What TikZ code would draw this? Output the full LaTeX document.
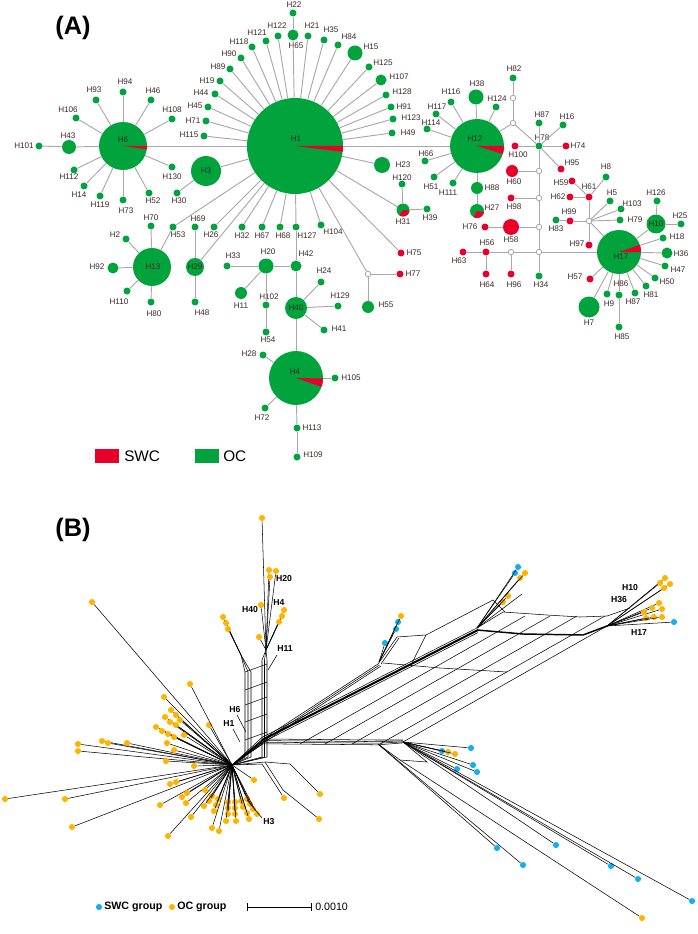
\documentclass[tikz,border=0pt]{standalone}
\usepackage{fontspec}
\setmainfont{Liberation Sans}
\usetikzlibrary{calc}
\definecolor{hg}{RGB}{0,163,60}
\definecolor{hr}{RGB}{232,0,42}
\definecolor{lg}{RGB}{168,168,168}
\definecolor{lbc}{RGB}{60,40,40}
\definecolor{bo}{RGB}{255,180,0}
\definecolor{bb}{RGB}{20,175,240}
\newcommand\hapn[5]{\node[#1] (#2) at (#3) {}; \node[lb] (L#2) at (#4) {#5};}
\newcommand\redpie[4]{\fill[hr,shift={(#1.center)}] (0,0) -- plot[domain=#3:#4,samples=12,variable=\t] (\t:#2) -- cycle;}
\begin{document}
\begin{tikzpicture}[x=0.75pt,y=-0.75pt,
  gd/.style={circle,fill=hg,inner sep=0pt,minimum size=#1*0.75pt}, gd/.default=7,
  rd/.style={circle,fill=hr,inner sep=0pt,minimum size=#1*0.75pt}, rd/.default=7,
  hd/.style={circle,draw=lg,fill=white,line width=0.6pt,inner sep=0pt,minimum size=5.5*0.75pt},
  lb/.style={font=\fontsize{6.1}{7}\selectfont,text=lbc,inner sep=0pt},
  ed/.style={draw=lg,line width=0.7pt},
  od/.style={circle,fill=bo,inner sep=0pt,minimum size=4.6pt},
  bd/.style={circle,fill=bb,inner sep=0pt,minimum size=4.6pt},
  bl/.style={draw=black,line width=0.4pt},
  bt/.style={font=\bfseries\fontsize{6.5}{7}\selectfont,inner sep=0pt},
  pan/.style={font=\bfseries\fontsize{19}{20}\selectfont,inner sep=0pt}]
\useasboundingbox (0,0) rectangle (697,934);
\node[pan] (pA) at (73,28) {(A)};
\node[pan] (pB) at (73,530) {(B)};
% ---------------- panel A nodes
\hapn{gd=96}{H1}{295,146}{296,139}{H1}
\hapn{gd=48}{H6}{123,146}{123,140}{H6}
\hapn{gd=14}{H43}{69,147}{68,136}{H43}
\hapn{gd}{H101}{39,146}{24,146}{H101}
\hapn{gd}{H94}{123,92}{125,82}{H94}
\hapn{gd}{H93}{96,100}{94,90}{H93}
\hapn{gd}{H46}{151,100}{153,91}{H46}
\hapn{gd}{H106}{76,118}{68,110}{H106}
\hapn{gd}{H108}{172,119}{172,110}{H108}
\hapn{gd}{H112}{74,170}{69,177}{H112}
\hapn{gd}{H14}{84,186}{79,195}{H14}
\hapn{gd}{H119}{100,196}{100,205}{H119}
\hapn{gd}{H73}{123,200}{126,211}{H73}
\hapn{gd}{H52}{149,193}{153,201}{H52}
\hapn{gd}{H130}{172,167}{172,177}{H130}
\hapn{gd=30}{H3}{206,171}{206,171}{H3}
\hapn{gd}{H30}{177,193}{179,201}{H30}
\hapn{gd}{H115}{204,136}{189,135}{H115}
\hapn{gd}{H71}{206,121}{193,121}{H71}
\hapn{gd}{H45}{208,107}{195,106}{H45}
\hapn{gd}{H44}{215,94}{201,93}{H44}
\hapn{gd}{H19}{220,81}{207,81}{H19}
\hapn{gd}{H89}{230,69}{218,67}{H89}
\hapn{gd}{H90}{241,58}{229,54}{H90}
\hapn{gd}{H118}{252,47}{239,42}{H118}
\hapn{gd}{H121}{266,41}{257,33}{H121}
\hapn{gd}{H122}{278,36}{277,26}{H122}
\hapn{gd=11}{H65}{293,35}{296,46}{H65}
\hapn{gd}{H22}{293,13}{294,5}{H22}
\hapn{gd}{H21}{308,36}{312,26}{H21}
\hapn{gd}{H35}{324,40}{331,30}{H35}
\hapn{gd}{H84}{338,45}{349,37}{H84}
\hapn{gd=15}{H15}{355,53}{371,47}{H15}
\hapn{gd}{H125}{369,67}{383,63}{H125}
\hapn{gd=11}{H107}{381,80}{399,77}{H107}
\hapn{gd}{H128}{386,95}{402,92}{H128}
\hapn{gd}{H91}{391,107}{404,107}{H91}
\hapn{gd}{H123}{393,119}{411,118}{H123}
\hapn{gd}{H49}{392,133}{408,133}{H49}
\hapn{gd=16}{H23}{382,165}{403,165}{H23}
\hapn{gd=13}{H31}{403,210}{403,222}{H31}
\hapn{gd}{H120}{402,184}{402,178}{H120}
\hapn{gd}{H39}{427,209}{430,218}{H39}
\hapn{rd}{H75}{401,253}{414,253}{H75}
\node[hd] (Xa) at (368,274) {};
\hapn{rd}{H77}{400,274}{413,274}{H77}
\hapn{gd=12}{H55}{368,307}{386,305}{H55}
\hapn{gd}{H104}{321,225}{333,232}{H104}
\hapn{gd}{H127}{296,227}{307,236}{H127}
\hapn{gd}{H68}{280,227}{283,236}{H68}
\hapn{gd}{H67}{262,227}{262,236}{H67}
\hapn{gd}{H32}{242,227}{242,236}{H32}
\hapn{gd}{H26}{214,227}{211,235}{H26}
\hapn{gd}{H69}{195,227}{198,219}{H69}
\hapn{gd=18}{H29}{195,267}{195,267}{H29}
\hapn{gd}{H48}{195,302}{202,313}{H48}
\hapn{gd}{H53}{173,227}{178,235}{H53}
\hapn{gd}{H70}{151,226}{151,218}{H70}
\hapn{gd=38}{H13}{152,267}{153,267}{H13}
\hapn{gd}{H2}{126,239}{115,235}{H2}
\hapn{gd=11}{H92}{113,268}{97,267}{H92}
\hapn{gd}{H110}{127,291}{119,302}{H110}
\hapn{gd}{H80}{151,302}{154,314}{H80}
\hapn{gd}{H33}{227,266}{233,256}{H33}
\hapn{gd=15}{H20}{266,266}{268,252}{H20}
\hapn{gd=11}{H42}{296,266}{306,254}{H42}
\hapn{gd=12}{H11}{241,293}{241,306}{H11}
\hapn{gd}{H102}{266,305}{269,297}{H102}
\hapn{gd}{H54}{266,332}{268,340}{H54}
\hapn{gd=22}{H40}{296,308}{296,308}{H40}
\hapn{gd}{H24}{321,282}{324,271}{H24}
\hapn{gd}{H129}{338,306}{340,296}{H129}
\hapn{gd}{H41}{324,330}{339,329}{H41}
\hapn{gd=54}{H4}{296,378}{295,372}{H4}
\hapn{gd}{H28}{263,355}{249,354}{H28}
\hapn{gd}{H105}{335,378}{351,378}{H105}
\hapn{gd}{H72}{265,408}{262,418}{H72}
\hapn{gd}{H113}{297,428}{312,428}{H113}
\hapn{gd}{H109}{297,457}{313,455}{H109}
\hapn{gd=54}{H12}{477,146}{475,139}{H12}
\hapn{gd=15}{H38}{476,97}{477,84}{H38}
\hapn{gd}{H116}{451,102}{451,92}{H116}
\hapn{gd}{H117}{436,114}{437,107}{H117}
\hapn{gd}{H114}{427,129}{431,123}{H114}
\hapn{gd}{H66}{425,161}{426,154}{H66}
\hapn{gd}{H51}{434,177}{431,187}{H51}
\hapn{gd}{H111}{453,183}{448,193}{H111}
\hapn{gd}{H124}{496,107}{497,99}{H124}
\hapn{gd=12}{H88}{477,188}{492,188}{H88}
\hapn{gd=14}{H27}{477,211}{492,208}{H27}
\node[hd] (X1) at (513,98) {};
\node[hd] (X2) at (513,123) {};
\hapn{gd}{H82}{513,78}{514,69}{H82}
\hapn{gd}{H87a}{539,123}{542,115}{H87}
\hapn{gd}{H16}{563,125}{567,117}{H16}
\hapn{gd}{H78}{539,146}{542,138}{H78}
\hapn{rd}{H74}{566,146}{578,146}{H74}
\hapn{rd}{H100}{515,146}{518,155}{H100}
\hapn{rd}{H95}{561,169}{572,163}{H95}
\hapn{rd=12}{H60}{512,171}{514,182}{H60}
\node[hd] (X3) at (539,171) {};
\hapn{rd}{H98}{511,198}{514,207}{H98}
\node[hd] (X4) at (539,198) {};
\hapn{rd}{H76}{485,227}{470,227}{H76}
\hapn{rd=16}{H58}{511,227}{511,240}{H58}
\node[hd] (X5) at (539,227) {};
\hapn{rd}{H63}{463,252}{459,261}{H63}
\hapn{rd}{H56}{486,252}{487,243}{H56}
\hapn{rd}{H64}{486,274}{487,285}{H64}
\node[hd] (X6) at (511,252) {};
\hapn{rd}{H96}{511,274}{514,285}{H96}
\node[hd] (X7) at (539,252) {};
\hapn{gd}{H34}{539,276}{541,285}{H34}
\hapn{rd}{H59}{572,181}{561,183}{H59}
\hapn{rd}{H61}{589,197}{589,187}{H61}
\hapn{rd}{H62}{570,197}{558,197}{H62}
\hapn{gd}{H8}{606,177}{606,167}{H8}
\hapn{gd}{H5}{610,201}{612,193}{H5}
\hapn{gd}{H103}{621,209}{632,204}{H103}
\hapn{gd}{H79}{620,220}{635,220}{H79}
\hapn{rd}{H99}{570,221}{569,212}{H99}
\hapn{gd}{H83}{556,220}{556,229}{H83}
\node[hd] (X8) at (589,221) {};
\hapn{rd}{H97}{589,245}{577,244}{H97}
\hapn{gd=44}{H17}{619,252}{621,257}{H17}
\hapn{gd}{H126}{657,201}{656,193}{H126}
\hapn{gd=19}{H10}{656,224}{656,224}{H10}
\hapn{gd}{H25}{681,224}{680,216}{H25}
\hapn{gd}{H18}{663,238}{677,237}{H18}
\hapn{gd=11}{H36}{667,253}{681,254}{H36}
\hapn{gd}{H47}{665,266}{678,270}{H47}
\hapn{gd}{H50}{655,278}{667,282}{H50}
\hapn{gd}{H81}{646,286}{651,295}{H81}
\hapn{gd}{H87b}{635,293}{633,302}{H87}
\hapn{gd}{H86}{619,295}{621,284}{H86}
\hapn{gd}{H9}{607,294}{609,304}{H9}
\hapn{gd=21}{H7}{589,307}{589,323}{H7}
\hapn{gd}{H85}{619,327}{622,337}{H85}
\hapn{rd}{H57}{590,279}{575,277}{H57}
% ---------------- panel A edges
\foreach \b in {H6,H12,H115,H71,H45,H44,H19,H89,H90,H118,H121,H122,H65,H21,H35,H84,H15,H125,H107,H128,H91,H123,H49,H23,H31,H75,Xa,H104,H127,H68,H67,H32,H26,H29,H53,H3}
  \draw[ed] (H1) -- (\b);
\foreach \a/\b in {H65/H22,H31/H120,H31/H39,Xa/H77,Xa/H55,H127/H42,H42/H20,H20/H33,H20/H11,H20/H102,H102/H54,H42/H40,H40/H24,H40/H129,H40/H41,H40/H4,H4/H28,H4/H105,H4/H72,H4/H113,H113/H109,H43/H101,H3/H30,H29/H69,H29/H48,H88/H27,X2/X1,X1/H82,X2/H78,X3/X4,X4/X5,X5/X7,X3/H60,X4/H98,X5/H58,H58/H76,X7/H34,X7/X6,X6/H56,H56/H63,H56/H64,X6/H96,X7/H17,H61/H59,H61/H62,H61/H8,H10/H126,H10/H25,H86/H85,H83/H99}
  \draw[ed] (\a) -- (\b);
\foreach \b in {H94,H93,H46,H106,H108,H43,H112,H14,H119,H73,H52,H130}
  \draw[ed] (H6) -- (\b);
\foreach \b in {H70,H2,H92,H110,H80,H53}
  \draw[ed] (H13) -- (\b);
\foreach \b in {H38,H116,H117,H114,H66,H51,H111,H124,H88,X2}
  \draw[ed] (H12) -- (\b);
\foreach \b in {H87a,H16,H74,H95,H100,X3}
  \draw[ed] (H78) -- (\b);
\foreach \b in {H99,H61,H5,H103,H79,H97,H17}
  \draw[ed] (X8) -- (\b);
\foreach \b in {H10,H18,H36,H47,H50,H81,H87b,H86,H9,H7,H57}
  \draw[ed] (H17) -- (\b);
% pies
\redpie{H1}{48}{0}{7}
\redpie{H6}{24}{0}{8}
\redpie{H12}{27}{0}{17}
\redpie{H4}{27}{1}{19}
\redpie{H17}{22}{-19}{0}
\redpie{H31}{6.5}{5}{125}
\redpie{H27}{7}{10}{120}
% legend A
\node[fill=hr,minimum width=24*0.75pt,minimum height=14*0.75pt,inner sep=0pt] (kS) at (107,456) {};
\node[font=\fontsize{11.5}{12}\selectfont,anchor=west,inner sep=0pt] (tS) at (124,456) {SWC};
\node[fill=hg,minimum width=24*0.75pt,minimum height=14*0.75pt,inner sep=0pt] (kO) at (207,456) {};
\node[font=\fontsize{11.5}{12}\selectfont,anchor=west,inner sep=0pt] (tO) at (223,456) {OC};
% ---------------- panel B
\coordinate (hub) at (232,765);
\foreach \p [count=\i] in {{171,710},{176,715},{165,717},{180,720},{170,722},{176,725},{156,727},{162,731},{168,734},{174,737},{184,735},{209,725},{78,744},{78,751},{102,741},{108,743},{127,743},{167,743},{174,750},{166,761},{194,766},{5,799},{65,799},{170,784},{176,782},{72,827},{160,805},{168,836},{182,797},{187,793},{186,803},{205,790},{212,796},{218,799},{209,801},{204,806},{216,805},{214,811},{191,817},{212,828},{219,831},{228,802},{235,802},{241,801},{247,799},{250,804},{228,808},{235,808},{243,807},{253,809},{228,814},{235,814},{247,813},{257,814},{226,821},{236,821},{249,819},{92,602},{190,684},{164,697},{254,780}}
  {\node[od] (ol\i) at (\p) {}; \draw[bl] (hub) -- (ol\i);}
% vertical band
\coordinate (vq) at (266,650);
\coordinate (vp) at (241,655);
\foreach \x in {262,264.5,267} \draw[bl] (hub) -- (\x,757) -- (\x,660) -- (vq);
\foreach \x in {245,248,251} \draw[bl] (hub) -- (\x,757) -- (\x,672) -- (vp);
\foreach \y in {672,690,705,722,740} \draw[bl] (245,\y) -- (267,\y-8);
\foreach \p [count=\i] in {{262,518},{269,570},{276,571},{270,577},{284,610},{282,616},{279,622},{261,605},{259,637}}
  {\node[od] (ot\i) at (\p) {}; \draw[bl] (vq) -- (ot\i);}
\foreach \p [count=\i] in {{223,617},{226,623},{228,629}}
  {\node[od] (ou\i) at (\p) {}; \draw[bl] (vp) -- (ou\i);}
% horizontal band R
\foreach \d in {0,1.6,3.2,4.8} \draw[bl] (hub) -- (263,739+\d) -- (378,740+\d) -- (403,740+0.6*\d);
\coordinate (j5) at (403,742);
\coordinate (j6) at (378,744);
% diagonal bundles
\coordinate (d0) at (262,740); \coordinate (d1) at (478,630);
\draw[bl] (hub) -- (d0);
\draw[draw=black,line width=1.5pt] (d0) -- (d1);
\foreach \k in {-2.6,2.6} \draw[bl] (hub) -- ($(d0)+(0,\k)$) -- ($(d1)+(0,\k)$);
\foreach \k in {0,1,2} \draw[bl] (hub) -- (272+1.5*\k,733+\k) -- (378+1.5*\k,664+\k);
% lattice
\foreach \x in {300,325,352,380} \draw[bl] (\x,744) -- (\x+197,632) -- (\x+225,616);
\draw[bl] (j5) -- (607,626);
\draw[bl] (383,663) -- (440,668) -- (507,672);
% box
\coordinate (bx) at (379,662);
\draw[bl] (378,664) -- (397,637) -- (426,635) -- (412,663);
\draw[bl] (381,664) -- (399,638);
\draw[bl] (426,635) -- (493,600) -- (505,612);
\node[bd] (bb1) at (385,643) {}; \node[bd] (bb2) at (396,629) {}; \node[bd] (bb3) at (398,622) {}; \node[od] (bo1) at (401,616) {};
\foreach \n in {bb1,bb2,bb3,bo1} \draw[bl] (bx) -- (\n);
% junction J3
\coordinate (j3) at (477,628);
\node[bd] (cb1) at (518,567) {}; \node[bd] (cb2) at (515,573) {};
\node[od] (co1) at (525,573) {}; \node[od] (co2) at (520,578) {}; \node[od] (co3) at (508,596) {}; \node[od] (co4) at (503,602) {};
\foreach \n in {cb1,cb2,co1,co2,co3,co4} \draw[bl] (j3) -- (\n);
\draw[bl] (j3) -- (522,594);
% rails
\draw[bl] (477,628) -- (503,612) -- (547,615) -- (580,617) -- (607,616) -- (630,608);
\draw[draw=black,line width=1.1pt] (477,630) -- (523,634) -- (583,635) -- (607,626);
\coordinate (j4) at (607,626);
\foreach \p [count=\i] in {{665,578},{660,583},{670,584},{664,588},{659,603},{652,608},{662,609},{644,612},{646,618},{654,617},{662,617}}
  {\node[od] (rr\i) at (\p) {}; \draw[bl] (j4) -- (rr\i);}
\node[bd] (rb1) at (674,622) {}; \draw[bl] (j4) -- (rb1);
% lower right leaves
\foreach \p [count=\i] in {{471,748},{442,751},{473,765},{457,769},{477,772},{556,845},{611,866},{638,879},{692,901}}
  {\node[bd] (lb\i) at (\p) {}; \draw[bl] (j5) -- (lb\i);}
\node[od] (lo1) at (448,752) {}; \node[od] (lo2) at (455,754) {};
\draw[bl] (j5) -- (lo1); \draw[bl] (j5) -- (lo2);
\node[bd] (lb10) at (497,848) {}; \node[bd] (lb11) at (523,865) {};
\draw[bl] (j6) -- (lb10); \draw[bl] (j6) -- (lb11);
\draw[bl] (j6) -- (400,760) -- (427,762) -- (j5);
\node[od] (lo3) at (642,918) {}; \draw[bl] (400,760) -- (lo3);
% hub lower-right
\node[od] (hr1) at (284,798) {}; \node[od] (hr2) at (320,794) {}; \node[od] (hr3) at (319,819) {};
\draw[bl] (hub) -- (262,764) -- (hr1);
\draw[bl] (hub) -- (265,762) -- (283,790);
\draw[bl] (265,762) -- (290,764) -- (hr2);
\draw[bl] (283,790) -- (hr3);
% B labels and leaders
\node[bt] (bH20) at (284,579) {H20};
\node[bt] (bH4) at (279,603) {H4};
\node[bt] (bH40) at (250,610) {H40};
\node[bt] (bH11) at (285,649) {H11};
\node[bt] (bH6) at (235,710) {H6};
\node[bt] (bH1) at (229,724) {H1};
\node[bt] (bH3) at (269,822) {H3};
\node[bt] (bH10) at (630,588) {H10};
\node[bt] (bH36) at (619,600) {H36};
\node[bt] (bH17) at (639,633) {H17};
\draw[bl] (277,655) -- (268,670);
\draw[bl] (237,715) -- (246,732);
\draw[bl] (233,729) -- (240,742);
\draw[bl] (262,818) -- (247,800);
% legend B
\node[bd] (kb) at (99,907) {};
\node[font=\bfseries\fontsize{8}{9}\selectfont,anchor=west,inner sep=0pt] (tb) at (104,907) {SWC group};
\node[od] (ko) at (172,907) {};
\node[font=\bfseries\fontsize{8}{9}\selectfont,anchor=west,inner sep=0pt] (to) at (177,907) {OC group};
\coordinate (s1) at (247,907); \coordinate (s2) at (311,907);
\draw[bl,line width=0.6pt] (s1) -- (s2);
\draw[bl,line width=0.6pt] (247,903) -- (247,911);
\draw[bl,line width=0.6pt] (311,903) -- (311,911);
\node[font=\fontsize{8}{9}\selectfont,anchor=west,inner sep=0pt] (ts) at (315,907) {0.0010};
\end{tikzpicture}
\end{document}
